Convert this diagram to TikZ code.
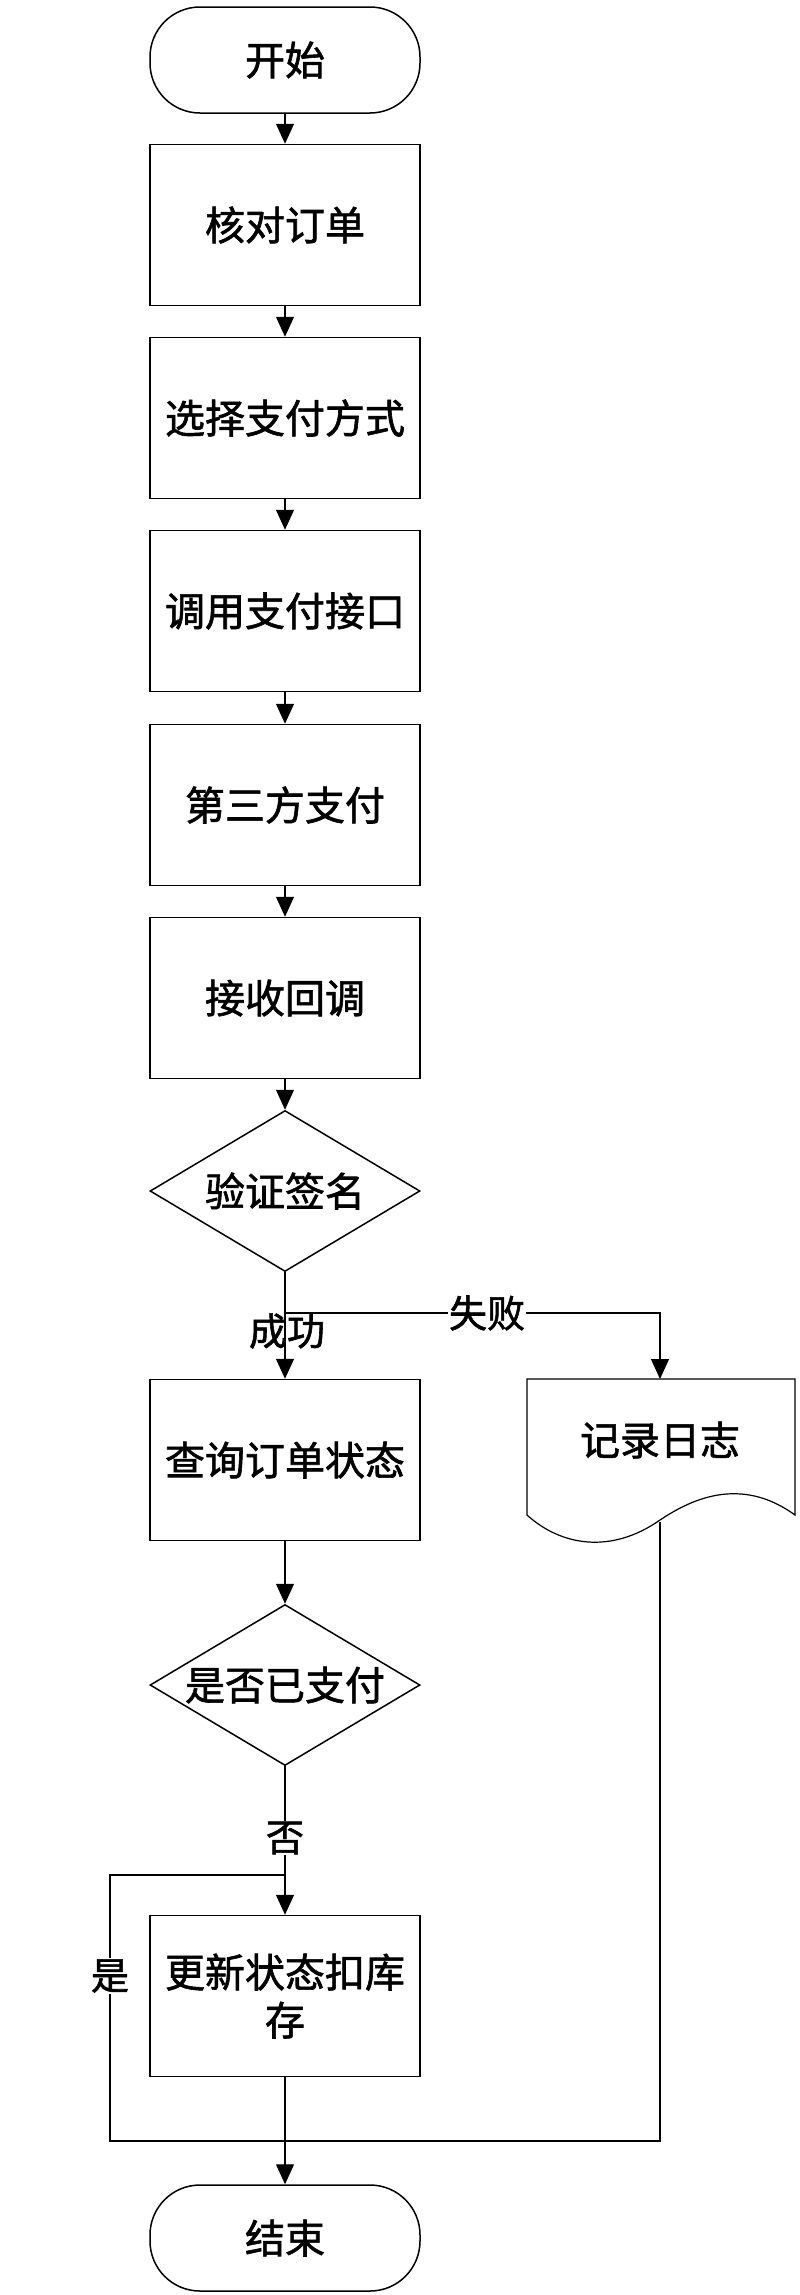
\documentclass[tikz,border=0pt]{standalone}
\usepackage{fontspec}
\setmainfont{Liberation Serif}
\newfontfamily\cjk{Noto Sans CJK SC}[FakeBold=1.5]
\usetikzlibrary{shapes.geometric,shapes.symbols,arrows.meta}
\begin{document}
\begin{tikzpicture}[x=1pt,y=-1pt,
  every node/.style={font=\cjk\fontsize{40}{48}\selectfont},
  box/.style={draw,line width=1.5pt,minimum width=270pt,minimum height=161pt,inner sep=0pt,align=center,text width=264pt},
  term/.style={draw,line width=1.5pt,rounded corners=50pt,minimum width=270pt,minimum height=106pt},
  dia/.style={draw,line width=1.5pt,diamond,aspect=1.68,minimum width=270pt,minimum height=161pt,inner sep=0pt},
  ln/.style={line width=1.2pt},
  ar/.style={ln,-{Triangle[length=20pt,width=18pt]}},
  lab/.style={font=\cjk\fontsize{38}{44}\selectfont,inner sep=1pt}]
\useasboundingbox (0,0) rectangle (800,2295);
\node[term] (s) at (285,60) {开始};
\node[box] (b1) at (285,225) {核对订单};
\node[box] (b2) at (285,418) {选择支付方式};
\node[box] (b3) at (285,611) {调用支付接口};
\node[box] (b4) at (285,805) {第三方支付};
\node[box] (b5) at (285,998) {接收回调};
\node[dia] (d1) at (285,1191) {验证签名};
\node[box] (b6) at (285,1460) {查询订单状态};
\node[dia] (d2) at (285,1685) {是否已支付};
\node[box] (b7) at (285,1996) {更新状态扣库\\存};
\node[term] (e) at (285,2238) {结束};
\draw[ln] (527,1379) -- (795,1379) -- (795,1515)
  .. controls (740,1475) and (690,1500) .. (660,1520)
  .. controls (610,1555) and (560,1545) .. (527,1515) -- cycle;
\node[inner sep=0pt] (doc) at (660,1440) {记录日志};
\coordinate (doct) at (660,1379);
\coordinate (docb) at (660,1522);
\draw[ar] (s) -- (b1);
\draw[ar] (b1) -- (b2);
\draw[ar] (b2) -- (b3);
\draw[ar] (b3) -- (b4);
\draw[ar] (b4) -- (b5);
\draw[ar] (b5) -- (d1);
\coordinate (sp) at (285,1313);
\draw[ar] (d1.south) -- (sp) -- (b6.north);
\draw[ar] (sp) -- (660,1313) -- (doct);
\node[lab,fill=white] at (487,1313) {失败};
\node[lab] at (287,1331) {成功};
\draw[ar] (b6) -- (d2);
\coordinate (j) at (285,1875);
\draw[ar] (d2.south) -- (j) -- (b7.north);
\node[lab,fill=white] at (285,1838) {否};
\draw[ar] (b7.south) -- (e.north);
\draw[ln] (j) -- (110,1875) -- (110,2141) -- (660,2141) -- (docb);
\node[lab,fill=white] at (110,1976) {是};
\end{tikzpicture}
\end{document}
